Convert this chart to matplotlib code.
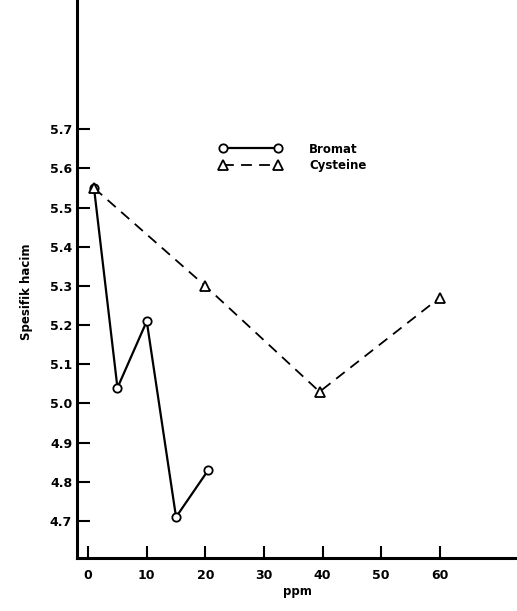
#Plotting script for specific volume vs additive concentration
#Bromat and Cysteine series

import matplotlib.pyplot as plt

BromatPPM = [1, 5, 10, 15, 20.5]
BromatVol = [5.55, 5.04, 5.21, 4.71, 4.83]

CysteinePPM = [1, 20, 39.5, 60]
CysteineVol = [5.55, 5.30, 5.03, 5.27]

XTicks = [0, 10, 20, 30, 40, 50, 60]
YTicks = [4.7, 4.8, 4.9, 5.0, 5.1, 5.2, 5.3, 5.4, 5.5, 5.6, 5.7]

plt.rcParams['font.family'] = 'DejaVu Sans'
plt.rcParams['font.weight'] = 'bold'

fig = plt.figure(figsize=(5.17,6.11),dpi=100)
ax = fig.add_axes([0.149,0.087,0.851,0.913])

ax.plot(BromatPPM,BromatVol,'k-',linewidth=1.6,marker='o',markersize=6,
	markerfacecolor='white',markeredgewidth=1.3,label='Bromat')
ax.plot(CysteinePPM,CysteineVol,'k--',linewidth=1.3,dashes=(6,4),marker='^',markersize=7,
	markerfacecolor='white',markeredgewidth=1.3,label='Cysteine')

ax.set_xlim(-1.9,73.2)
ax.set_ylim(4.606,6.03)
ax.set_xticks(XTicks)
ax.set_yticks(YTicks)
ax.set_yticklabels(['%.1f' % v for v in YTicks])

ax.spines['top'].set_visible(False)
ax.spines['right'].set_visible(False)
ax.spines['left'].set_linewidth(2.2)
ax.spines['bottom'].set_linewidth(2.2)
ax.tick_params(direction='in',length=9,width=1.5,labelsize=9)
ax.tick_params(axis='x',pad=8)

ax.set_xlabel('ppm',fontsize=8.5,fontweight='bold',labelpad=2)
ax.set_ylabel('Spesifik hacim',fontsize=8.5,fontweight='bold')
ax.yaxis.set_label_coords(-0.1,0.477)

ax.legend(loc='upper left',bbox_to_anchor=(0.31,0.755),frameon=False,fontsize=8.5,
	numpoints=2,handlelength=5.3,handletextpad=2.3,labelspacing=0.3,borderpad=0)

plt.savefig('out.png')
plt.close()
